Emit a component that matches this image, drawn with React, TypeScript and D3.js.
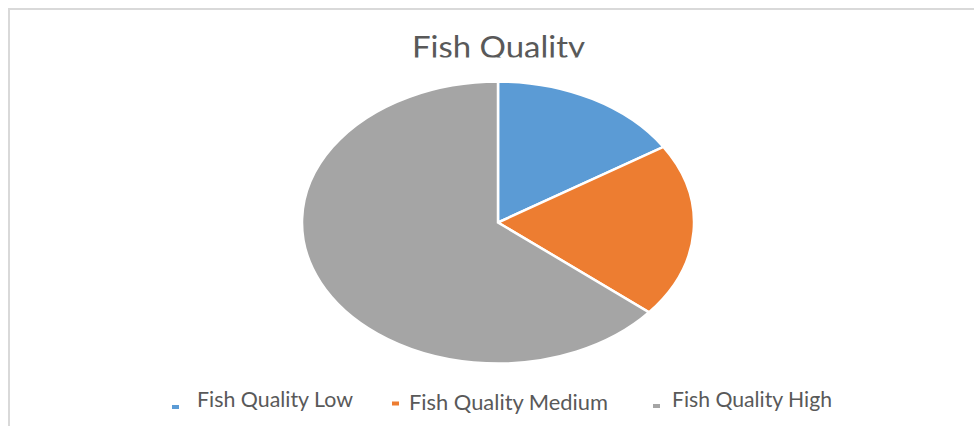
import React from "react";
import * as d3 from "d3";

const categories = ["Fish Quality Low", "Fish Quality Medium", "Fish Quality High"];
const values = [16, 20, 64];
const colors = ["#5b9bd5", "#ed7d31", "#a5a5a5"];
const title = "Fish Quality";

export default function App() {
  const W = 974;
  const H = 426;
  const cx = 498;
  const cy = 222.5;
  const rx = 196;
  const ry = 141;

  const pie = d3.pie<number>().sort(null).value((d) => d)(values);
  const arc = d3.arc<d3.PieArcDatum<number>>().innerRadius(0).outerRadius(1);

  // legend layout
  const legendItems = [
    { mx: 172, my: 405, tx: 197, ty: 407, tw: 156 },
    { mx: 392, my: 401.5, tx: 409, ty: 410, tw: 199 },
    { mx: 653, my: 404, tx: 672, ty: 407, tw: 160 },
  ];

  return (
    <svg
      width={W}
      height={H}
      style={{ position: "absolute", left: 0, top: 0, background: "#fff" }}
      fontFamily="Lato, 'Open Sans', sans-serif"
    >
      <defs>
        <clipPath id="titleClip">
          <rect x={0} y={0} width={W} height={57.5} />
        </clipPath>
      </defs>
      <rect x={0} y={0} width={W} height={H} fill="#fff" />
      <path d={`M9,${H} L9,9 L${W},9`} fill="none" stroke="#d9d9d9" strokeWidth={2} />
      <g clipPath="url(#titleClip)">
        <text
          x={412}
          y={58}
          fontSize={30}
          fill="#595959"
          textLength={173}
          lengthAdjust="spacingAndGlyphs"
        >
          {title}
        </text>
      </g>
      <g transform={`translate(${cx},${cy}) scale(${rx},${ry})`}>
        {pie.map((p, i) => (
          <path
            key={categories[i]}
            d={arc(p) || ""}
            fill={colors[i]}
            stroke="#fff"
            strokeWidth={2.5}
            vectorEffect="non-scaling-stroke"
          />
        ))}
      </g>
      {categories.map((c, i) => {
        const l = legendItems[i];
        return (
          <g key={c}>
            <rect x={l.mx} y={l.my} width={7} height={4} fill={colors[i]} />
            <text
              x={l.tx}
              y={l.ty}
              fontSize={22}
              fill="#595959"
              textLength={l.tw}
              lengthAdjust="spacingAndGlyphs"
            >
              {c}
            </text>
          </g>
        );
      })}
    </svg>
  );
}
